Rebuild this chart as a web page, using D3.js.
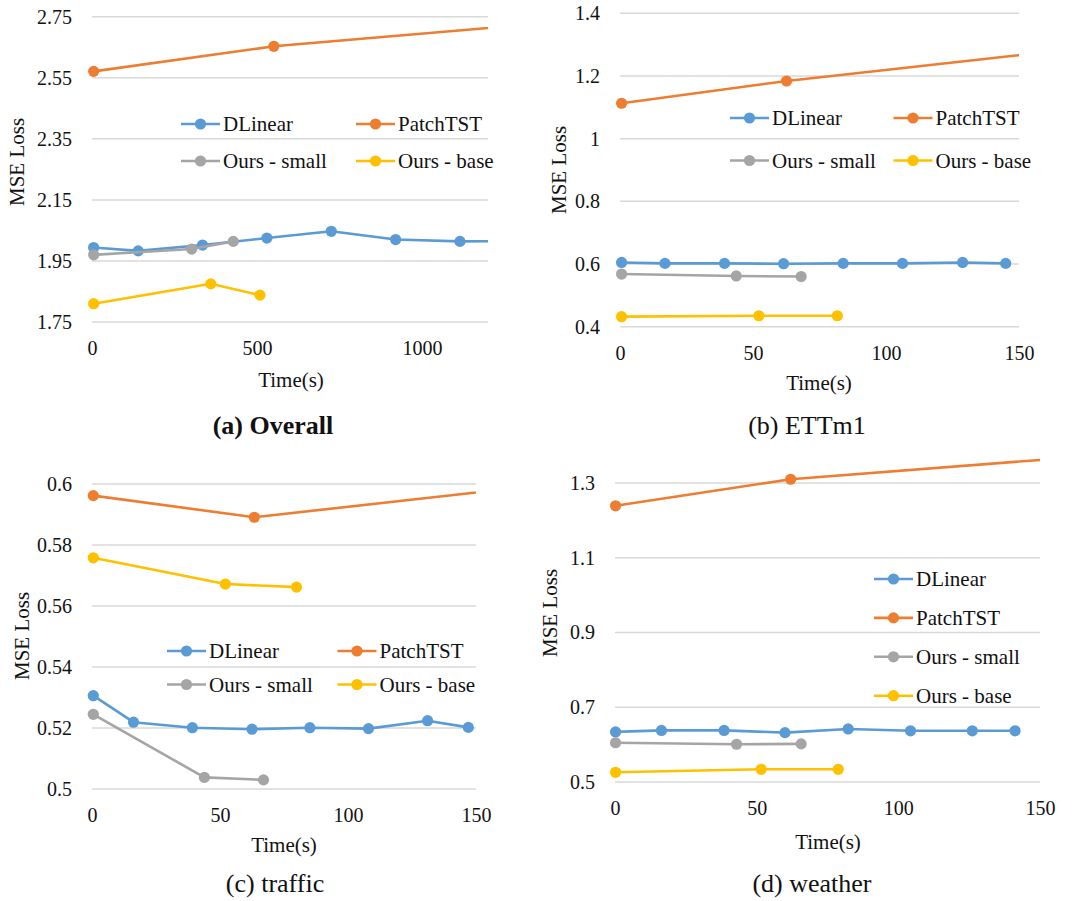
<!DOCTYPE html>
<html>
<head>
<meta charset="utf-8">
<script src="https://cdn.jsdelivr.net/npm/d3@7"></script>
<style>
  body { margin: 0; background: #fff; }
  svg text { font-family: "Liberation Serif", "Times New Roman", serif; fill: #111; }
</style>
</head>
<body>
<div id="chart"></div>
<script>
// series names + colours (Excel defaults)
var seriesNames = ["DLinear", "PatchTST", "Ours - small", "Ours - base"];
var seriesColors = ["#5B9BD5", "#ED7D31", "#A5A5A5", "#FFC000"];

/* (a) Overall : [time, mse] */
var overallDLinear = [[5, 1.994], [140, 1.983], [335, 2.002], [530, 2.025], [725, 2.047], [920, 2.020], [1115, 2.014], [1310, 2.015]];
var overallPatchTST = [[5, 2.571], [551, 2.653], [1500, 2.741]];
var overallSmall = [[5, 1.970], [302, 1.989], [428, 2.014]];
var overallBase = [[5, 1.810], [360, 1.875], [509, 1.838]];
var overallYTicks = [1.75, 1.95, 2.15, 2.35, 2.55, 2.75];
var overallXTicks = [0, 500, 1000];

/* (b) ETTm1 */
var ettDLinear = [[0.6, 0.605], [16.9, 0.602], [39.3, 0.602], [61.5, 0.601], [83.9, 0.602], [106.2, 0.602], [128.8, 0.605], [145, 0.602]];
var ettPatchTST = [[0.6, 1.113], [62.6, 1.184], [200, 1.314]];
var ettSmall = [[0.6, 0.568], [43.7, 0.562], [68.1, 0.560]];
var ettBase = [[0.6, 0.432], [52.2, 0.435], [81.7, 0.435]];
var ettYTicks = [0.4, 0.6, 0.8, 1.0, 1.2, 1.4];
var ettXTicks = [0, 50, 100, 150];

/* (c) traffic */
var trafficDLinear = [[0.5, 0.5306], [16.2, 0.5219], [39.2, 0.5201], [62.5, 0.5196], [85.1, 0.5201], [108, 0.5198], [131.1, 0.5224], [147, 0.5202]];
var trafficPatchTST = [[0.5, 0.5962], [63.4, 0.5891], [200, 0.6019]];
var trafficSmall = [[0.5, 0.5245], [43.9, 0.5038], [67, 0.5030]];
var trafficBase = [[0.5, 0.5758], [52.1, 0.5672], [79.9, 0.5662]];
var trafficYTicks = [0.5, 0.52, 0.54, 0.56, 0.58, 0.6];
var trafficXTicks = [0, 50, 100, 150];

/* (d) weather */
var weatherDLinear = [[0.2, 0.634], [16.4, 0.638], [38.5, 0.638], [60, 0.632], [82.3, 0.642], [104.3, 0.637], [126.1, 0.637], [141.2, 0.637]];
var weatherPatchTST = [[0.2, 1.239], [62, 1.310], [200, 1.391]];
var weatherSmall = [[0.2, 0.605], [42.9, 0.601], [65.7, 0.602]];
var weatherBase = [[0.2, 0.526], [51.6, 0.534], [78.8, 0.534]];
var weatherYTicks = [0.5, 0.7, 0.9, 1.1, 1.3];
var weatherXTicks = [0, 50, 100, 150];

var panels = [
  { id: "a", title: "(a) Overall", bold: true,
    series: [overallDLinear, overallPatchTST, overallSmall, overallBase],
    xDomain: [0, 1200], yDomain: [1.75, 2.75], yTicks: overallYTicks, xTicks: overallXTicks, yFmt: d3.format(".2f"),
    left: 92, right: 488, top: 16.7, bottom: 322, clipTop: 0,
    titleX: 273, titleY: 434, xLabX: 291, xLabY: 387, yLabX: 17, yLabY: 162,
    legend: { cols: 2, x0: 181, dx: 175, y0: 124, dy: 37 } },
  { id: "b", title: "(b) ETTm1", bold: false,
    series: [ettDLinear, ettPatchTST, ettSmall, ettBase],
    xDomain: [0, 150], yDomain: [0.4, 1.4], yTicks: ettYTicks, xTicks: ettXTicks, yFmt: d3.format(""),
    left: 620, right: 1019, top: 13.3, bottom: 326.7, clipTop: 0,
    titleX: 807, titleY: 434, xLabX: 819, xLabY: 390, yLabX: 559, yLabY: 170,
    legend: { cols: 2, x0: 730, dx: 163.5, y0: 118, dy: 42.5 } },
  { id: "c", title: "(c) traffic", bold: false,
    series: [trafficDLinear, trafficPatchTST, trafficSmall, trafficBase],
    xDomain: [0, 150], yDomain: [0.5, 0.6], yTicks: trafficYTicks, xTicks: trafficXTicks, yFmt: d3.format(""),
    left: 92, right: 476, top: 484, bottom: 789, clipTop: 455,
    titleX: 275, titleY: 892, xLabX: 284, xLabY: 852, yLabX: 22, yLabY: 636,
    legend: { cols: 2, x0: 167, dx: 170.5, y0: 651, dy: 33.5 } },
  { id: "d", title: "(d) weather", bold: false,
    series: [weatherDLinear, weatherPatchTST, weatherSmall, weatherBase],
    xDomain: [0, 150], yDomain: [0.5, 1.3], yTicks: weatherYTicks, xTicks: weatherXTicks, yFmt: d3.format(""),
    left: 615, right: 1040, top: 483, bottom: 782, clipTop: 452,
    titleX: 812, titleY: 892, xLabX: 828, xLabY: 849, yLabX: 550, yLabY: 613,
    legend: { cols: 1, x0: 874, dx: 0, y0: 579, dy: 38.9 } }
];

var svg = d3.select("#chart").append("svg").attr("width", 1077).attr("height", 901);

panels.forEach(function(p) {
  var x = d3.scaleLinear().domain(p.xDomain).range([p.left, p.right]);
  var y = d3.scaleLinear().domain(p.yDomain).range([p.bottom, p.top]);
  var g = svg.append("g").attr("class", "panel-" + p.id);

  // gridlines
  g.selectAll(".grid").data(p.yTicks).enter().append("line")
    .attr("x1", p.left).attr("x2", p.right)
    .attr("y1", function(d) { return y(d); }).attr("y2", function(d) { return y(d); })
    .style("stroke", "#d9d9d9").style("stroke-width", 1.5);

  var yAxis = g.append("g").attr("transform", "translate(" + p.left + ",0)")
    .call(d3.axisLeft(y).tickValues(p.yTicks).tickSize(0).tickPadding(20).tickFormat(p.yFmt));
  var xAxis = g.append("g").attr("transform", "translate(0," + p.bottom + ")")
    .call(d3.axisBottom(x).tickValues(p.xTicks).tickSize(0).tickPadding(19).tickFormat(d3.format("")));
  [yAxis, xAxis].forEach(function(a) {
    a.select(".domain").remove();
    a.selectAll("text").style("font-size", "20px").style("font-family", "Liberation Serif").style("fill", "#111");
  });

  // clip so lines run off the right edge like Excel
  g.append("clipPath").attr("id", "clip-" + p.id).append("rect")
    .attr("x", p.left - 10).attr("y", p.clipTop)
    .attr("width", p.right - p.left + 10).attr("height", p.bottom - p.clipTop + 20);

  var line = d3.line().x(function(d) { return x(d[0]); }).y(function(d) { return y(d[1]); });
  var plot = g.append("g").attr("clip-path", "url(#clip-" + p.id + ")");

  // draw in Excel order: DLinear, PatchTST, small, base
  p.series.forEach(function(s, i) {
    plot.append("path").datum(s).attr("d", line)
      .style("fill", "none").style("stroke", seriesColors[i]).style("stroke-width", 2.6)
      .style("stroke-linejoin", "round");
    plot.selectAll(".pt" + i).data(s).enter().append("circle")
      .attr("cx", function(d) { return x(d[0]); })
      .attr("cy", function(d) { return y(d[1]); })
      .attr("r", 5.6)
      .style("fill", seriesColors[i]);
  });

  // legend
  var leg = g.selectAll(".leg").data(seriesNames).enter().append("g")
    .attr("transform", function(d, i) {
      var c = p.legend.cols == 2 ? i % 2 : 0;
      var r = p.legend.cols == 2 ? Math.floor(i / 2) : i;
      return "translate(" + (p.legend.x0 + c * p.legend.dx) + "," + (p.legend.y0 + r * p.legend.dy) + ")";
    });
  leg.append("line").attr("x1", 0).attr("x2", 39).attr("y1", 0).attr("y2", 0)
    .style("stroke", function(d, i) { return seriesColors[i]; }).style("stroke-width", 2.6);
  leg.append("circle").attr("cx", 19.5).attr("cy", 0).attr("r", 5.6)
    .style("fill", function(d, i) { return seriesColors[i]; });
  leg.append("text").attr("x", 42).attr("y", 7).text(function(d) { return d; })
    .style("font-size", "21px");

  // axis titles
  g.append("text").attr("x", p.xLabX).attr("y", p.xLabY).attr("text-anchor", "middle")
    .style("font-size", "21px").text("Time(s)");
  g.append("text").attr("transform", "translate(" + (p.yLabX + 7) + "," + p.yLabY + ") rotate(-90)")
    .attr("text-anchor", "middle").style("font-size", "21px").text("MSE Loss");

  // panel caption
  g.append("text").attr("x", p.titleX).attr("y", p.titleY).attr("text-anchor", "middle")
    .style("font-size", "26px").style("font-weight", p.bold ? "bold" : "normal").text(p.title);
});
</script>
</body>
</html>
